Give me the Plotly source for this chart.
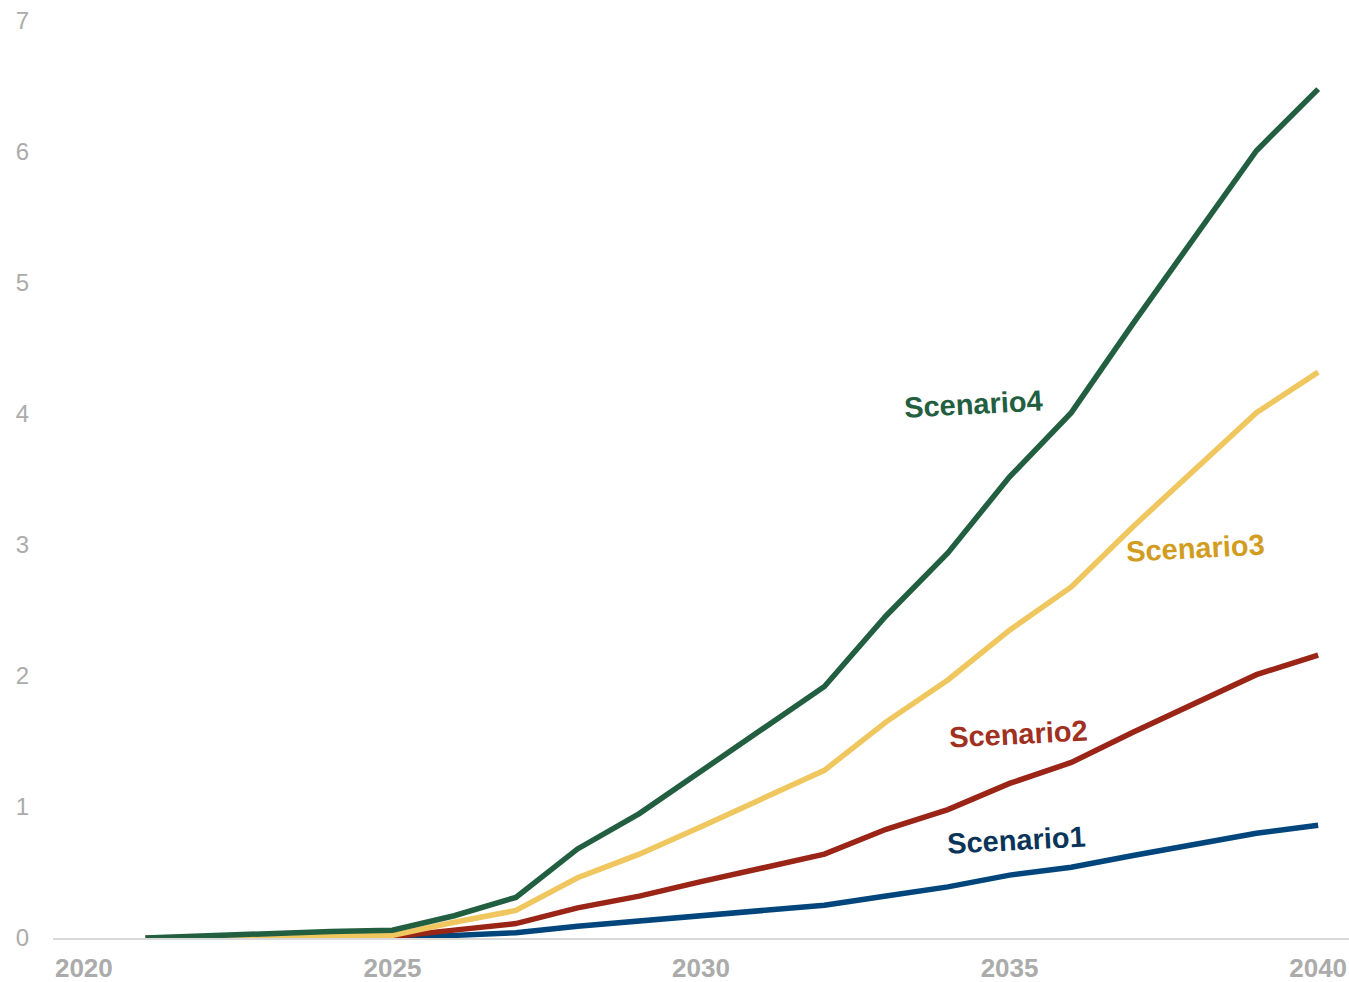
import plotly.graph_objects as go

years = list(range(2021, 2041))
scenario1 = [0, 0, 0, 0, 0, 0.02, 0.04, 0.09, 0.13, 0.17, 0.21, 0.25, 0.32, 0.39, 0.48, 0.54, 0.63, 0.71, 0.80, 0.86]
scenario2 = [0, 0, 0, 0.005, 0.01, 0.06, 0.11, 0.23, 0.32, 0.43, 0.54, 0.64, 0.83, 0.98, 1.18, 1.34, 1.57, 1.79, 2.01, 2.16]
scenario3 = [0, 0, 0.01, 0.015, 0.02, 0.12, 0.21, 0.46, 0.64, 0.85, 1.06, 1.28, 1.65, 1.97, 2.35, 2.68, 3.14, 3.57, 4.01, 4.32]
scenario4 = [0, 0.02, 0.04, 0.05, 0.06, 0.17, 0.31, 0.68, 0.95, 1.27, 1.59, 1.92, 2.46, 2.94, 3.52, 4.01, 4.69, 5.35, 6.01, 6.48]

names = ["Scenario1", "Scenario2", "Scenario3", "Scenario4"]
series = [scenario1, scenario2, scenario3, scenario4]
line_colors = ["#00457C", "#9A2416", "#F0C65E", "#225E40"]
label_colors = ["#0B3558", "#A0301F", "#D29C1E", "#225E40"]
label_x = [2035.12, 2035.14, 2038.02, 2034.42]
label_y = [0.75, 1.56, 2.98, 4.08]

x_ticks = [2020, 2025, 2030, 2035, 2040]
y_ticks = [0, 1, 2, 3, 4, 5, 6, 7]

fig = go.Figure()
for n, s, c in zip(names, series, line_colors):
    fig.add_trace(go.Scatter(x=years, y=s, mode="lines", name=n,
                             line=dict(color=c, width=5.5), showlegend=False))

for n, lx, ly, lc in zip(names, label_x, label_y, label_colors):
    fig.add_annotation(x=lx, y=ly, text="<b>%s</b>" % n, showarrow=False,
                       textangle=-3, font=dict(family="Liberation Sans, Arial", size=29, color=lc))

fig.update_layout(
    width=1349, height=982,
    margin=dict(l=53, r=0, t=21, b=44),
    plot_bgcolor="white", paper_bgcolor="white",
    font=dict(family="Liberation Sans, Arial"),
)
fig.update_xaxes(range=[2019.5, 2040.5], tickvals=x_ticks,
                 ticktext=["<b>%d</b>" % v for v in x_ticks],
                 tickfont=dict(size=26, color="#ABABAB"),
                 showgrid=False, zeroline=False, showline=True,
                 linecolor="#D9D9D9", linewidth=2, ticks="", ticklabelstandoff=6)
fig.update_yaxes(range=[0, 7], tickvals=y_ticks,
                 tickfont=dict(size=24, color="#ABABAB"),
                 showgrid=False, zeroline=False, showline=False,
                 ticks="", ticklabelstandoff=23)

fig.write_html("out.html", config={"displayModeBar": False},
               post_script="document.body.style.margin='0';document.body.style.overflow='hidden';")
